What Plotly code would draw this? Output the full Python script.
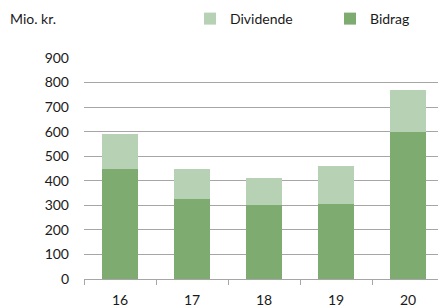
import plotly.graph_objects as go

years = ["16", "17", "18", "19", "20"]
bidrag = [450, 325, 300, 305, 600]
dividende = [140, 122, 110, 155, 168]

y_ticks = [0, 100, 200, 300, 400, 500, 600, 700, 800, 900]

dark = "#7EAB6F"
light = "#B6D1B3"
grid = "#A6A6A6"
font = "Lato, 'Open Sans', sans-serif"

fig = go.Figure()
fig.add_trace(go.Bar(name="Bidrag", x=years, y=bidrag, legend="legend2",
                     marker=dict(color=dark, line=dict(width=0))))
fig.add_trace(go.Bar(name="Dividende", x=years, y=dividende, legend="legend",
                     marker=dict(color=light, line=dict(width=0))))

W, H = 438, 307
L, R, T, B = 84, 0, 58, 28

leg_common = dict(
    orientation="h",
    xref="container", yref="container",
    xanchor="left", yanchor="middle",
    font=dict(size=14, family=font),
    bgcolor="rgba(0,0,0,0)",
)

fig.update_layout(
    width=W, height=H,
    margin=dict(l=L, r=R, t=T, b=B, pad=0, autoexpand=False),
    barmode="stack",
    bargap=0.5,
    plot_bgcolor="white",
    paper_bgcolor="white",
    font=dict(family=font, size=14, color="#1A1A1A"),
    showlegend=True,
    legend=dict(x=190 / W, y=1 - 19 / H, **leg_common),
    legend2=dict(x=330 / W, y=1 - 19 / H, **leg_common),
    xaxis=dict(
        type="category",
        range=[-0.5, 4.5 - 6 / 72],
        showline=True, linecolor=grid, linewidth=1,
        ticks="outside", tickson="boundaries", ticklen=5, tickcolor=grid,
        showgrid=False, automargin=False,
        ticklabelstandoff=8,
        tickfont=dict(size=14),
    ),
    yaxis=dict(
        range=[0, 900],
        tickvals=y_ticks,
        showgrid=True, gridcolor=grid, gridwidth=1,
        zeroline=False, showline=False, automargin=False,
        ticks="", ticklabelstandoff=14,
        tickfont=dict(size=14),
    ),
    annotations=[
        dict(text="Mio. kr.", xref="paper", yref="paper",
             x=(8 - L) / (W - L - R), y=(H - B - 19) / (H - T - B),
             xanchor="left", yanchor="middle", showarrow=False,
             font=dict(size=14, family=font)),
    ],
)

fig.write_html("out.html", config={"displayModeBar": False},
               post_script="document.body.style.margin='0';document.body.style.overflow='hidden';")
